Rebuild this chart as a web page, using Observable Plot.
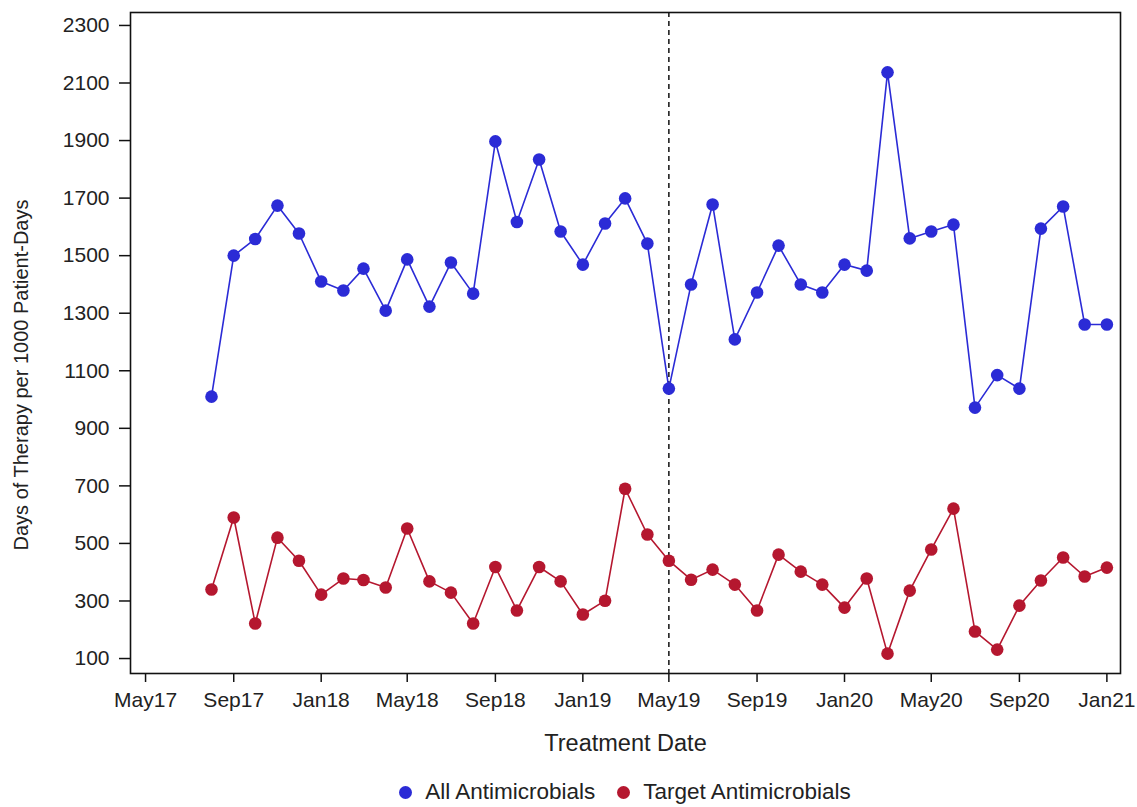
<!DOCTYPE html>
<html>
<head>
<meta charset="utf-8">
<script src="https://cdn.jsdelivr.net/npm/d3@7"></script>
<script src="https://cdn.jsdelivr.net/npm/@observablehq/plot@0.6"></script>
<style>
  html, body { margin: 0; padding: 0; background: #fff; }
  body { width: 1137px; height: 807px; overflow: hidden; font-family: "Liberation Sans", Arial, sans-serif; }
  #chart svg { display: block; }
  #legend { display: flex; justify-content: center; align-items: center; gap: 22px; font-size: 22.5px; line-height: 26px; color: #222; margin-top: 19px; padding-left: 130px; padding-right: 17px; }
  #legend .item { display: flex; align-items: center; gap: 13px; }
  #legend .dot { width: 13px; height: 13px; border-radius: 50%; display: inline-block; }
</style>
</head>
<body>
<div id="chart"></div>
<div id="legend"></div>
<script>
const months = [
  "2017-08","2017-09","2017-10","2017-11","2017-12",
  "2018-01","2018-02","2018-03","2018-04","2018-05","2018-06","2018-07","2018-08","2018-09","2018-10","2018-11","2018-12",
  "2019-01","2019-02","2019-03","2019-04","2019-05","2019-06","2019-07","2019-08","2019-09","2019-10","2019-11","2019-12",
  "2020-01","2020-02","2020-03","2020-04","2020-05","2020-06","2020-07","2020-08","2020-09","2020-10","2020-11","2020-12",
  "2021-01"
];
const allAntimicrobials = [
  1010,1500,1558,1674,1577,
  1410,1379,1455,1309,1487,1323,1476,1368,1897,1617,1834,1584,
  1469,1612,1699,1542,1038,1400,1678,1209,1372,1535,1400,1372,
  1469,1448,2137,1560,1584,1608,972,1085,1038,1594,1671,1261,
  1261
];
const targetAntimicrobials = [
  340,590,222,520,440,
  322,378,373,347,552,368,329,222,418,267,418,368,
  253,301,690,531,440,374,409,357,267,461,402,357,
  277,378,117,336,479,621,194,131,284,371,451,385,
  416
];
const seriesNames = ["All Antimicrobials", "Target Antimicrobials"];
const seriesColors = ["#2b2bd6", "#b5172f"];
const xTicks = ["2017-05","2017-09","2018-01","2018-05","2018-09","2019-01","2019-05","2019-09","2020-01","2020-05","2020-09","2021-01"];
const yTicks = [100,300,500,700,900,1100,1300,1500,1700,1900,2100,2300];
const interventionMonth = "2019-05";
const xLabel = "Treatment Date";
const yLabel = "Days of Therapy per 1000 Patient-Days";

const parse = d3.utcParse("%Y-%m");
const rows = [];
months.forEach((m, i) => {
  rows.push({date: parse(m), value: allAntimicrobials[i], series: seriesNames[0]});
  rows.push({date: parse(m), value: targetAntimicrobials[i], series: seriesNames[1]});
});

const chart = Plot.plot({
  width: 1137,
  height: 760,
  marginLeft: 130,
  marginRight: 17,
  marginTop: 12,
  marginBottom: 87,
  style: {fontFamily: "'Liberation Sans', Arial, sans-serif", fontSize: "21px", color: "#222", background: "#fff"},
  x: {type: "utc", domain: [new Date(Date.UTC(2017,3,10)), new Date(Date.UTC(2021,0,20))]},
  y: {domain: [48, 2345]},
  color: {domain: seriesNames, range: seriesColors},
  marks: [
    Plot.frame({stroke: "#111", strokeWidth: 1.6}),
    Plot.axisX({ticks: xTicks.map(parse), tickFormat: d3.utcFormat("%b%y"), tickSize: 9, tickPadding: 10,
      label: null, fontSize: 21, stroke: "#111", strokeWidth: 1.5}),
    Plot.axisY({ticks: yTicks, tickFormat: d => String(d), tickSize: 11, tickPadding: 10,
      label: null, fontSize: 21, stroke: "#111", strokeWidth: 1.5}),
    Plot.text([xLabel], {frameAnchor: "bottom", dy: 70, lineAnchor: "middle", fontSize: 23.5, fill: "#222"}),
    Plot.text([yLabel], {frameAnchor: "left", textAnchor: "middle", rotate: -90, dx: -117, dy: 32, lineAnchor: "top", fontSize: 20, fill: "#222"}),
    Plot.ruleX([parse(interventionMonth)], {stroke: "#111", strokeWidth: 1.5, strokeDasharray: "5,4"}),
    Plot.line(rows, {x: "date", y: "value", z: "series", stroke: "series", strokeWidth: 1.6}),
    Plot.dot(rows, {x: "date", y: "value", fill: "series", r: 6.3})
  ]
});
document.getElementById("chart").appendChild(chart);

const legend = document.getElementById("legend");
seriesNames.forEach((name, i) => {
  const item = document.createElement("span");
  item.className = "item";
  const dot = document.createElement("span");
  dot.className = "dot";
  dot.style.background = seriesColors[i];
  item.appendChild(dot);
  item.appendChild(document.createTextNode(name));
  legend.appendChild(item);
});
</script>
</body>
</html>
